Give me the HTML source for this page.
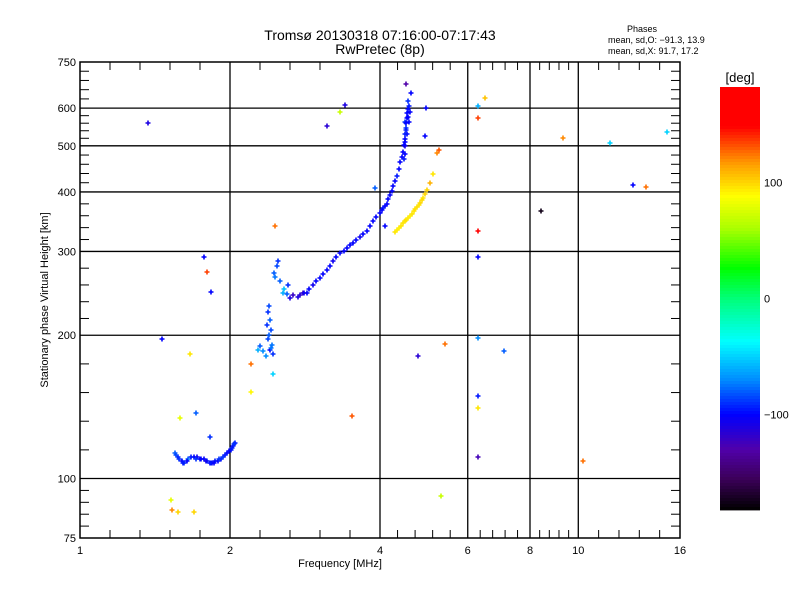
<!DOCTYPE html>
<html><head><meta charset="utf-8">
<style>
html,body{margin:0;padding:0;background:#fff;}
svg{display:block;font-family:"Liberation Sans",sans-serif;}
</style></head>
<body>
<svg id="chart" width="800" height="600" viewBox="0 0 800 600" xmlns="http://www.w3.org/2000/svg">
<rect width="800" height="600" fill="#fff"/>
<text x="380" y="40" font-size="14" text-anchor="middle">Tromsø 20130318 07:16:00-07:17:43</text>
<text x="380" y="54" font-size="14" text-anchor="middle">RwPretec (8p)</text>
<text x="642" y="32" font-size="9" text-anchor="middle">Phases</text>
<text x="608" y="43" font-size="9">mean, sd,O: −91.3, 13.9</text>
<text x="608" y="54" font-size="9">mean, sd,X:  91.7, 17.2</text>
<text x="340" y="567" font-size="11" text-anchor="middle">Frequency [MHz]</text>
<text transform="translate(48,300) rotate(-90)" font-size="11" text-anchor="middle">Stationary phase Virtual Height [km]</text>
<g id="grid"></g>
<g id="points"></g>
<rect x="80" y="62" width="600" height="476" fill="none" stroke="#000" stroke-width="1.5"/>
<g id="axes"></g>
<g id="cbar"></g>
<text x="740" y="82" font-size="13" text-anchor="middle">[deg]</text>
</svg>
<script>
// ---- data ----
const freqTicks = [1,2,4,6,8,10,16];
const heightTicks = [75,100,200,300,400,500,600,750];
const cbarTicks = [100,0,-100];
// O-mode trace and scattered echoes: frequency [MHz], height [km], phase [deg]
const freqs = [
1.55,1.57,1.60,1.62,1.65,1.69,1.72,1.74,1.77,1.80,1.82,1.84,1.87,1.89,1.92,1.94,1.97,2.01,2.03,2.05,
2.36,2.38,2.38,2.41,2.41,2.42,2.43,2.44,2.30,2.33,2.28,2.46,2.50,2.52,2.55,2.57,2.60,2.62,2.64,2.68,
2.74,2.80,2.85,2.93,3.03,3.13,3.22,3.33,3.44,3.53,3.65,3.77,3.87,4.00,4.06,4.13,4.19,4.25,4.33,4.39,4.45,4.49,4.51,4.53,4.55,4.59,4.50,4.53,4.48,4.46,4.61,4.51,4.56,4.48,
4.29,4.36,4.45,4.52,4.60,4.67,4.74,4.81,4.88,4.97,5.03,5.10,5.20,5.25,
1.37,1.46,1.66,1.77,1.80,1.83,1.71,1.82,1.59,1.52,1.53,1.57,1.69,2.20,2.20,2.46,2.44,3.13,3.40,3.33,3.52,3.90,4.10,4.77,4.93,4.95,5.40,5.30,
6.30,6.30,6.30,6.30,6.30,6.30,6.30,6.30,6.50,7.10,8.40,9.30,10.20,11.60,12.90,13.70,15.10,
1.56,1.58,1.61,1.64,1.67,1.71,1.75,1.79,1.83,1.86,1.90,1.95,1.99,2.02,2.04,
2.77,2.82,2.88,2.98,3.08,3.18,3.27,3.38,3.48,3.58,3.70,3.82,3.93,4.03,4.09,4.16,4.22,4.29,4.36,4.42,4.47,4.50,4.52,4.54,4.57,4.49,4.55,4.52,4.58,
4.32,4.40,4.48,4.56,4.63,4.70,4.78,4.85,4.92,2.39,2.40,2.37,2.42,2.45,2.48
];
const heights = [
113,111,109,108,110,111,111,110,110,109,108,108,109,109,110,111,113,115,117,119,
181,224,196,215,186,205,191,183,190,185,186,265,287,260,245,250,244,255,240,243,
241,245,245,255,264,274,287,297,305,313,321,331,348,362,370,378,394,411,432,463,486,518,544,572,598,590,560,530,500,470,647,673,620,480,
329,336,344,350,356,364,372,380,389,404,418,436,483,490,
559,196,183,292,272,246,137,122,134,90,86,85,85,174,152,339,166,550,610,590,135,408,339,181,524,600,192,92,
606,573,331,292,197,149,141,111,630,185,364,520,109,506,413,410,535,
112,110,108,109,111,110,110,109,108,108,110,112,114,116,118,
243,245,250,260,269,280,292,301,309,317,326,339,355,366,374,386,402,421,447,474,502,530,558,585,605,510,575,540,560,
333,340,347,353,360,368,376,384,396,230,200,210,188,270,280
];
const phases = [
-80,-95,-100,-90,-75,-100,-105,-95,-100,-90,-100,-105,-95,-100,-95,-90,-100,-95,-100,-95,
-70,-90,-85,-80,-100,-85,-75,-90,-80,-70,-60,-75,-90,-80,-60,-55,-80,-90,-110,-120,
-110,-125,-100,-105,-100,-100,-105,-100,-100,-100,-105,-100,-100,-100,-95,-100,-100,-100,-95,-100,-100,-100,-90,-100,-100,-100,-90,-100,-110,-95,-100,-130,-90,-100,
95,92,95,96,92,95,97,100,95,100,110,95,120,130,
-110,-100,95,-100,135,-100,-80,-90,80,80,120,100,100,125,90,125,-50,-115,-110,70,130,-80,-100,-115,-100,-100,125,70,
-60,135,160,-100,-70,-95,95,-125,105,-80,-175,120,125,-50,-100,125,-50,
-85,-90,-95,-100,-95,-90,-100,-105,-95,-100,-90,-95,-100,-95,-90,
-115,-105,-100,-100,-100,-100,-100,-100,-100,-100,-100,-100,-100,-100,-100,-100,-100,-100,-100,-100,-100,-95,-100,-100,-95,-100,-100,-95,-100,
93,95,96,94,95,97,96,98,100,-85,-80,-90,-75,-80,-85
];

// ---- axes ----
const X0=80,X1=680,Y0=62,Y1=538;
const xs = f => X0 + (X1-X0)*Math.log(f)/Math.log(16);
const ys = h => Y1 - (Y1-Y0)*Math.log(h/75)/Math.log(10);
const CB_TOP=87,CB_BOT=510,CB_MAX=182,CB_MIN=-182;
const cy = p => CB_TOP + (CB_MAX-p)/(CB_MAX-CB_MIN)*(CB_BOT-CB_TOP);
const NS='http://www.w3.org/2000/svg';
function mk(tag, attrs, parent){const e=document.createElementNS(NS,tag);for(const k in attrs)e.setAttribute(k,attrs[k]);parent.appendChild(e);return e;}

const stops=[[-182,[0,0,0]],[-155,[60,0,90]],[-130,[80,0,170]],[-100,[0,0,255]],[-70,[0,140,255]],[-37,[0,255,255]],[0,[0,255,120]],[26,[0,255,0]],[60,[170,255,0]],[88,[255,255,0]],[115,[255,160,0]],[148,[255,0,0]],[182,[255,0,0]]];
function col(p){
  if(p<=stops[0][0])return 'rgb(0,0,0)';
  for(let i=1;i<stops.length;i++){if(p<=stops[i][0]){const a=stops[i-1],b=stops[i],t=(p-a[0])/(b[0]-a[0]);
    return 'rgb('+a[1].map((v,k)=>Math.round(v+(b[1][k]-v)*t)).join(',')+')';}}
  return 'rgb(255,0,0)';
}

const grid=document.getElementById('grid'), axes=document.getElementById('axes');
freqTicks.forEach((f,i)=>{
  const x=xs(f);
  if(i>0&&i<freqTicks.length-1){
    const l=mk('line',{x1:x,y1:Y0,x2:x,y2:Y1,stroke:'#000','stroke-width':1.3},grid);
    
    
  }
  const t=mk('text',{x:x,y:554,'font-size':11,'text-anchor':'middle'},axes);
  t.textContent=f;
  
  
  if(i<freqTicks.length-1){
    const a=Math.log(f),b=Math.log(freqTicks[i+1]);
    for(let k=1;k<5;k++){
      const mx=xs(Math.exp(a+(b-a)*k/5));
      const m1=mk('line',{x1:mx,y1:Y1,x2:mx,y2:Y1-8,stroke:'#000','stroke-width':1},axes);
      
      
      const m2=mk('line',{x1:mx,y1:Y0,x2:mx,y2:Y0+8,stroke:'#000','stroke-width':1},axes);
      
      
    }
  }
});
heightTicks.forEach((h,i)=>{
  const y=ys(h);
  if(i>0&&i<heightTicks.length-1){
    const l=mk('line',{x1:X0,y1:y,x2:X1,y2:y,stroke:'#000','stroke-width':1.3},grid);
    
    
  }
  const t=mk('text',{x:76,y:y+4,'font-size':11,'text-anchor':'end'},axes);
  t.textContent=h;
  
  
  if(i<heightTicks.length-1){
    const ya=ys(h),yb=ys(heightTicks[i+1]);
    for(let k=1;k<5;k++){
      const my=ya+(yb-ya)*k/5;
      const m1=mk('line',{x1:X0,y1:my,x2:X0+9,y2:my,stroke:'#000','stroke-width':1},axes);
      
      
      const m2=mk('line',{x1:X1,y1:my,x2:X1-9,y2:my,stroke:'#000','stroke-width':1},axes);
      
      
    }
  }
});

// points
const pg=document.getElementById('points');
for(let i=0;i<freqs.length;i++){
  const x=Math.round(xs(freqs[i])),y=Math.round(ys(heights[i]));
  const p=mk('path',{d:`M${x-2.5},${y}H${x+2.5}M${x},${y-2.5}V${y+2.5}`,stroke:col(phases[i]),'stroke-width':1.6,fill:'none'},pg);
  
  
}

// colorbar
const cb=document.getElementById('cbar');
for(let y=CB_TOP;y<CB_BOT;y+=3){
  const p=CB_MAX-(y+1.5-CB_TOP)/(CB_BOT-CB_TOP)*(CB_MAX-CB_MIN);
  const r=mk('rect',{x:720,y:y,width:40,height:3.4,fill:col(p)},cb);
  
  
}
cbarTicks.forEach(v=>{
  const t=mk('text',{x:764,y:cy(v)+4,'font-size':11},cb);
  t.textContent=v<0?'−'+(-v):String(v);
  
  
});
</script>
</body></html>
